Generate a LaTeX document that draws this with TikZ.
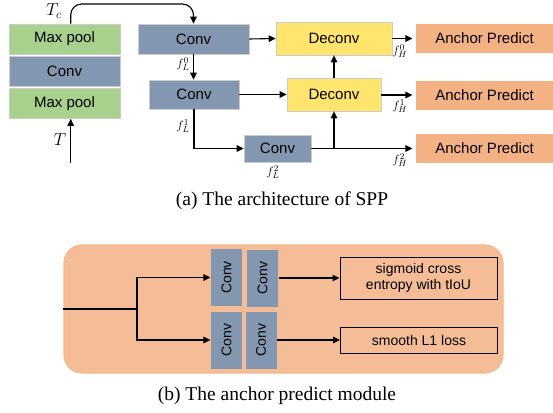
\documentclass[tikz,border=0pt]{standalone}
\usepackage{fontspec}
\setmainfont{Liberation Serif}
\setsansfont{Liberation Sans}
\usepackage{tikz}
\usetikzlibrary{arrows.meta}
\definecolor{poolgreen}{RGB}{169,209,142}
\definecolor{convblue}{RGB}{132,151,176}
\definecolor{deconvyellow}{RGB}{255,229,110}
\definecolor{anchororange}{RGB}{244,177,131}
\definecolor{panelorange}{RGB}{245,189,151}
\tikzstyle{every node}=[font=\sffamily\fontsize{15}{17}\selectfont,inner sep=0pt]
\tikzstyle{blk}=[draw=white!80!black,line width=0.6pt]
\tikzstyle{pool}=[blk,fill=poolgreen,minimum width=111pt,minimum height=30pt]
\tikzstyle{convbox}=[blk,fill=convblue]
\tikzstyle{deconvbox}=[blk,fill=deconvyellow,minimum height=33pt]
\tikzstyle{anchorbox}=[fill=anchororange,minimum width=137pt,minimum height=29pt]
\tikzstyle{vconv}=[fill=convblue,minimum width=31pt,minimum height=57pt,font=\sffamily\fontsize{14}{16}\selectfont]
\tikzstyle{lossbox}=[draw=black,line width=1pt,minimum width=157pt,align=center,font=\sffamily\fontsize{14}{16}\selectfont]
\tikzstyle{feat}=[font=\fontsize{12.5}{12.5}\selectfont]
\tikzstyle{caption}=[font=\rmfamily\fontsize{19.5}{22}\selectfont]

\begin{document}
\begin{tikzpicture}[x=1pt,y=-1pt,line width=1.1pt,>={Triangle[length=7pt,width=6.5pt]}]
	\useasboundingbox (0,0) rectangle (553,412);
	\node[pool] (mp1) at (64.5,39) {Max pool};
	\node[pool,fill=convblue] (cv0) at (64.5,71) {Conv};
	\node[pool] (mp2) at (64.5,103.5) {Max pool};
	\coordinate (tin) at (70.7,163);
	\draw[->] (tin) -- (tin |- mp2.south);
	\node[font=\fontsize{17}{17}\selectfont] (t) at (60,140) {$T$};
	\node[font=\fontsize{17}{17}\selectfont] (tc) at (54,11) {$T_c$};

	\node[convbox,minimum width=111pt,minimum height=30pt] (conv1) at (193.5,39) {Conv};
	\node[convbox,minimum width=90pt,minimum height=29pt] (conv2) at (194,94.5) {Conv};
	\node[convbox,minimum width=67pt,minimum height=27pt] (conv3) at (277.5,148.5) {Conv};
	\node[deconvbox,minimum width=116pt] (deconv1) at (334,38.5) {Deconv};
	\node[deconvbox,minimum width=94pt] (deconv2) at (334,94.5) {Deconv};
	\node[anchorbox] (ap1) at (484.5,38.5) {Anchor Predict};
	\node[anchorbox] (ap2) at (484.5,95) {Anchor Predict};
	\node[anchorbox] (ap3) at (484.5,148.5) {Anchor Predict};

	\draw[->,rounded corners=11pt] (tin |- mp1.north) -- (tin |- 0,4) -| (conv1.north);
	\draw[->] (conv1.south) -- (conv1.south |- conv2.north);
	\draw[->] (conv2.south) |- (conv3.west);
	\draw[->] (conv1.east) -- (deconv1.west);
	\draw[->] (conv2.east) -- (deconv2.west);
	\draw[->,shorten >=3pt] (conv3.east) -- (ap3.west);
	\draw[->] (conv3.east -| deconv2.south) -- (deconv2.south);
	\draw[->] (deconv2.north) -- (deconv1.south);
	\draw[->,shorten >=3pt] (deconv1.east) -- (ap1.west);
	\draw[->,shorten >=3pt] (deconv2.east |- ap2.west) -- (ap2.west);
	\node[feat] (fl0) at (183,64) {$f_L^0$};
	\node[feat] (fl1) at (183,126) {$f_L^1$};
	\node[feat] (fl2) at (273,172) {$f_L^2$};
	\node[feat] (fh0) at (400,51) {$f_H^0$};
	\node[feat] (fh1) at (400,106) {$f_H^1$};
	\node[feat] (fh2) at (400,160) {$f_H^2$};
	\node[caption] (capa) at (282,201) {(a) The architecture of SPP};

	\node[fill=panelorange,draw=panelorange!90!orange,rounded corners=18pt,minimum width=439pt,minimum height=128pt] (panel) at (283.5,309) {};
	\node[vconv] (c1) at (226.5,277.5) {\rotatebox{90}{Conv}};
	\node[vconv] (c2) at (262.5,278) {\rotatebox{90}{Conv}};
	\node[vconv] (c3) at (226.5,340) {\rotatebox{90}{Conv}};
	\node[vconv] (c4) at (261,340) {\rotatebox{90}{Conv}};
	\node[lossbox,minimum height=42pt] (cls) at (418.5,278) {sigmoid cross\\entropy with tIoU};
	\node[lossbox,minimum height=26pt] (reg) at (419,340) {smooth L1 loss};
	\coordinate (br) at (137,309);
	\draw (panel.west) -- (br);
	\draw[->] (br) |- (c1.west);
	\draw[->] (br) |- (c3.west);
	\draw[->] (c2.east) -- (cls.west);
	\draw[->] (c4.east) -- (reg.west);
	\node[caption] (capb) at (277,396) {(b) The anchor predict module};
\end{tikzpicture}
\end{document}
